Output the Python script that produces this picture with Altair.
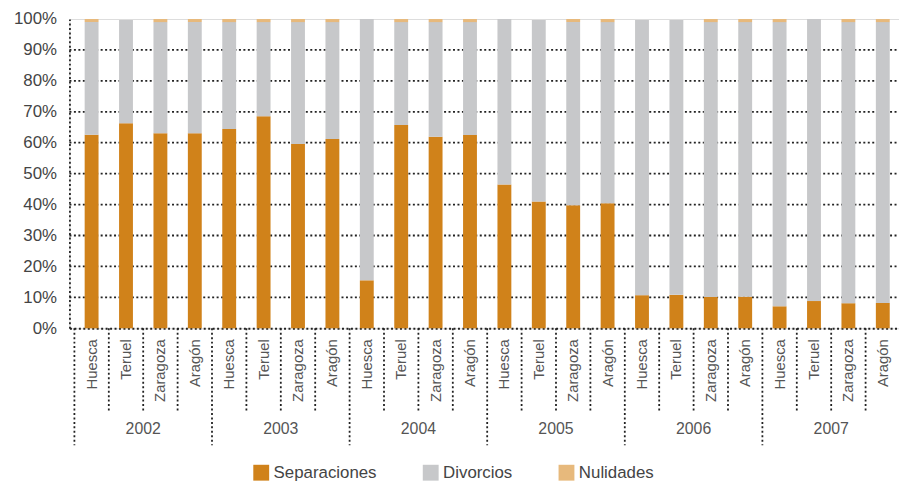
import altair as alt
import pandas as pd

years = ["2002", "2003", "2004", "2005", "2006", "2007"]
provinces = ["Huesca", "Teruel", "Zaragoza", "Aragón"]
series = ["Separaciones", "Divorcios", "Nulidades"]
colors = ["#D0821A", "#C7C8CA", "#E7B97C"]

separaciones = [62.6, 66.3, 63.1, 63.1, 64.4, 68.6, 59.6, 61.2, 15.5, 65.7, 61.9, 62.5,
                46.5, 41.0, 39.8, 40.4, 10.7, 10.8, 10.1, 10.2, 7.1, 8.8, 8.1, 8.2]
divorcios = [36.4, 33.4, 35.9, 35.9, 34.6, 30.4, 39.4, 37.8, 84.5, 33.3, 37.1, 36.5,
             53.5, 58.7, 59.2, 58.6, 89.0, 88.9, 88.9, 88.8, 91.9, 91.2, 90.9, 90.8]
nulidades = [1.0, 0.0, 1.0, 1.0, 1.0, 1.0, 1.0, 1.0, 0.0, 1.0, 1.0, 1.0,
             0.0, 0.0, 1.0, 1.0, 0.0, 0.0, 1.0, 1.0, 1.0, 0.0, 1.0, 1.0]
grid_values = [10, 20, 30, 40, 50, 60, 70, 80, 90]
y_ticks = [0, 10, 20, 30, 40, 50, 60, 70, 80, 90, 100]

FONT = "Liberation Sans"
W = 837
H = 312
XRANGE = 843

rows = []
cats = []
for yi, yr in enumerate(years):
    for pi, pr in enumerate(provinces):
        i = yi * 4 + pi
        cats.append({"pos": i + 0.5, "label": pr})
        for si, (s, vals) in enumerate(zip(series, [separaciones, divorcios, nulidades])):
            rows.append({"pos": i + 0.5, "serie": s, "ord": si, "valor": vals[i],
                         "year": yr, "prov": pr})
df = pd.DataFrame(rows)
cat_df = pd.DataFrame(cats)
year_df = pd.DataFrame({"pos": [yi * 4 + 2 for yi in range(len(years))], "label": years})
cat_sep = pd.DataFrame({"pos": [i for i in range(1, 24) if i % 4 != 0]})
year_sep = pd.DataFrame({"pos": [yi * 4 for yi in range(0, len(years) + 1)]})
grid_df = pd.DataFrame({"v": grid_values})

xscale = alt.Scale(domain=[0, 24], range=[0, XRANGE])
yscale = alt.Scale(domain=[0, 100])
DASH = [2, 2.5]

y_axis = alt.Axis(values=y_ticks, labelExpr="datum.value + '%'", grid=False,
                  ticks=False, title=None, domain=True, domainColor="#222",
                  domainDash=DASH, domainWidth=1.8, labelFontSize=17,
                  labelColor="#444", labelFont=FONT, labelPadding=13)
x_axis = alt.Axis(labels=False, ticks=False, grid=False, title=None,
                  domain=True, domainColor="#222", domainDash=DASH, domainWidth=1.8)

grid = alt.Chart(grid_df).mark_rule(color="#222", strokeDash=DASH, strokeWidth=1.8).encode(
    y=alt.Y("v:Q", scale=yscale, axis=y_axis),
    x=alt.value(0),
    x2=alt.value(XRANGE),
)

bars = alt.Chart(df).mark_bar(size=14).encode(
    x=alt.X("pos:Q", scale=xscale, axis=x_axis),
    y=alt.Y("valor:Q", stack="zero", scale=yscale, axis=y_axis),
    color=alt.Color("serie:N", scale=alt.Scale(domain=series, range=colors),
                    legend=alt.Legend(title=None, orient="none", legendX=185, legendY=449,
                                      direction="horizontal", symbolType="square",
                                      symbolSize=256, symbolStrokeWidth=0,
                                      labelFontSize=17, labelColor="#444", labelFont=FONT,
                                      columnPadding=46, labelOffset=4)),
    order=alt.Order("ord:Q", sort="ascending"),
)

cat_rules = alt.Chart(cat_sep).mark_rule(color="#222", strokeDash=DASH, strokeWidth=1.8).encode(
    x=alt.X("pos:Q", scale=xscale, axis=x_axis),
    y=alt.value(H),
    y2=alt.value(H + 83),
)

year_rules = alt.Chart(year_sep).mark_rule(color="#222", strokeDash=DASH, strokeWidth=1.8).encode(
    x=alt.X("pos:Q", scale=xscale, axis=x_axis),
    y=alt.value(H),
    y2=alt.value(H + 118),
)

cat_text = alt.Chart(cat_df).mark_text(angle=270, align="right", baseline="middle",
                                        fontSize=15, color="#555", font=FONT).encode(
    x=alt.X("pos:Q", scale=xscale, axis=x_axis),
    y=alt.value(H + 11),
    text="label:N",
)

year_text = alt.Chart(year_df).mark_text(align="center", baseline="middle",
                                          fontSize=16, color="#555", font=FONT).encode(
    x=alt.X("pos:Q", scale=xscale, axis=x_axis),
    y=alt.value(H + 102),
    text="label:N",
)

chart = alt.layer(grid, bars, cat_rules, year_rules, cat_text, year_text).properties(
    width=W, height=H,
    autosize=alt.AutoSizeParams(type="none"),
    padding={"left": 62, "top": 9, "right": 0, "bottom": 153},
).configure_view(stroke=None).configure(background="white")

chart.save("out.html", embed_options={"renderer": "svg", "actions": False})
